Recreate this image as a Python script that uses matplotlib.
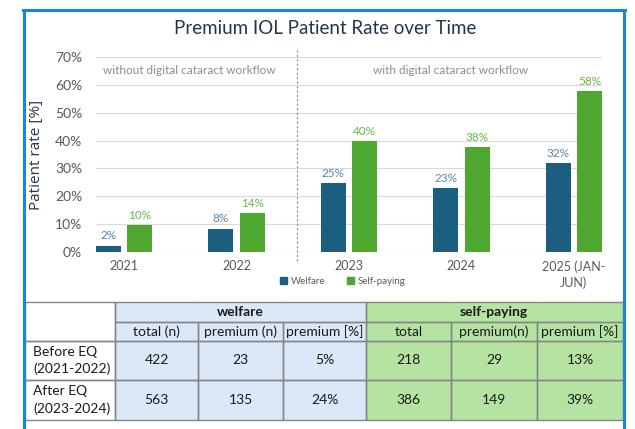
import matplotlib
matplotlib.use("Agg")
import matplotlib.pyplot as plt
from matplotlib.patches import Patch
from matplotlib.lines import Line2D
import numpy as np

# ---------------- data ----------------
years = ["2021", "2022", "2023", "2024", "2025 (JAN-\nJUN)"]
welfare = [2.3, 8.4, 24.8, 23.0, 31.8]
self_paying = [9.6, 14.1, 39.7, 37.6, 57.8]
yticks = [0, 10, 20, 30, 40, 50, 60, 70]

periods = ["Before EQ\n(2021-2022)", "After EQ\n(2023-2024)"]
welfare_total = [422, 563]
welfare_premium = [23, 135]
welfare_pct = ["5%", "24%"]
sp_total = [218, 386]
sp_premium = [29, 149]
sp_pct = ["13%", "39%"]
sub_headers = ["total (n)", "premium (n)", "premium [%]", "total", "premium(n)", "premium [%]"]

# ---------------- style ----------------
FONT = ["Lato", "DejaVu Sans"]
plt.rcParams["font.family"] = FONT
C_W = "#1a5e80"
C_S = "#4ea72e"
C_WL = "#5586ad"
C_SL = "#62bb44"
GRAY = "#595959"
BORDER = "#1687d9"

W, H = 635, 429
fig = plt.figure(figsize=(W / 100, H / 100), dpi=100)
fig.patch.set_facecolor("white")

# ---------------- chart ----------------
ax = fig.add_axes([96 / W, 1 - 252 / H, (602 - 96) / W, (252 - 57) / H])
x = np.arange(len(years))
bw = 0.22
off = 0.14
b1 = ax.bar(x - off, welfare, bw, color=C_W, zorder=3, label="Welfare")
b2 = ax.bar(x + off, self_paying, bw, color=C_S, zorder=3, label="Self-paying")
ax.bar_label(b1, labels=[f"{v:.0f}%" for v in welfare], padding=3, fontsize=8.5, color=C_WL)
ax.bar_label(b2, labels=[f"{v:.0f}%" for v in self_paying], padding=3, fontsize=8.5, color=C_SL)

ax.set_xlim(-0.25, len(years) - 0.75)
ax.set_ylim(0, 70)
ax.set_yticks(yticks)
ax.set_yticklabels([f"{t}%" for t in yticks])
ax.set_xticks(x)
ax.set_xticklabels(years, linespacing=1.3)
ax.tick_params(axis="y", length=0, pad=10, labelsize=10, labelcolor=GRAY)
ax.tick_params(axis="x", length=0, pad=6, labelsize=9, labelcolor=GRAY)
ax.grid(axis="y", color="#d9d9d9", linewidth=0.8, zorder=0)
ax.set_axisbelow(True)
for s in ax.spines.values():
    s.set_visible(False)
ax.set_ylabel("Patient rate [%]", fontsize=11, color="#26374a", labelpad=8,
              family=["Open Sans", "DejaVu Sans"])

ax.axvline(1.54, ymin=-0.046, ymax=1.046, color="#8c8c8c", linestyle=(0, (2, 2)),
           linewidth=0.8, clip_on=False, zorder=1)
ax.text(0.58, 65, "without digital cataract workflow", ha="center", va="center",
        fontsize=8.5, color="#8c8c8c")
ax.text(2.9, 65, "with digital cataract workflow", ha="center", va="center",
        fontsize=8.5, color="#8c8c8c")

handles = [Patch(color=C_W, label="Welfare"), Patch(color=C_S, label="Self-paying")]
fig.legend(handles=handles, loc="center", bbox_to_anchor=(343 / W, 1 - 281 / H), ncol=2,
           frameon=False, fontsize=7, labelcolor=GRAY, handlelength=0.7, handleheight=0.7,
           handletextpad=0.4, columnspacing=2.2)

fig.text(325 / W, 1 - 29 / H, "Premium IOL Patient Rate over Time", ha="center", va="center",
         fontsize=13.5, color="#203550")

# ---------------- table ----------------
col_w = [90, 83, 85, 83, 85, 86, 86]
row_h = [20, 19, 39, 40]
cells = [["", "", "welfare", "", "", "self-paying", ""],
         [""] + sub_headers]
for i in range(2):
    cells.append([periods[i], str(welfare_total[i]), str(welfare_premium[i]), welfare_pct[i],
                  str(sp_total[i]), str(sp_premium[i]), sp_pct[i]])
BLUE = "#dae8f7"
GREEN = "#b5e4a2"
fills = []
for r in range(4):
    fills.append(["white"] + [BLUE] * 3 + [GREEN] * 3)

tax = fig.add_axes([25 / W, 1 - 420 / H, (623 - 25) / W, (420 - 302) / H])
tax.axis("off")

tw = [w / sum(col_w) for w in col_w]
# background table (fill only)
bg = tax.table(cellText=[[""] * 7 for _ in range(4)], cellColours=fills, colWidths=tw,
               bbox=[0, 0, 1, 1])
for (r, c), cell in bg.get_celld().items():
    cell.set_height(row_h[r])
    cell.set_edgecolor(fills[r][c])
    cell.set_linewidth(0)
# foreground table (edges + text)
fg = tax.table(cellText=cells, colWidths=tw, cellLoc="center", bbox=[0, 0, 1, 1])
fg.auto_set_font_size(False)
fg.set_fontsize(10)
for (r, c), cell in fg.get_celld().items():
    cell.set_height(row_h[r])
    cell.set_facecolor("none")
    cell.set_edgecolor("#858585")
    cell.set_linewidth(1.0)
    cell.get_text().set_color("#1a1a1a")
    if r == 0:
        cell.get_text().set_fontweight("bold")
    if c == 0 and r >= 2:
        cell.PAD = 0.09
        cell.get_text().set_horizontalalignment("left")
        cell.get_text().set_linespacing(1.5)
fg[0, 0].visible_edges = "TLR"
fg[1, 0].visible_edges = "BLR"
fg[0, 1].visible_edges = "TLB"
fg[0, 2].visible_edges = "TB"
fg[0, 3].visible_edges = "TRB"
fg[0, 4].visible_edges = "TLB"
fg[0, 5].visible_edges = "TB"
fg[0, 6].visible_edges = "TRB"

# ---------------- frame ----------------
lw = 2.2
fig.add_artist(Line2D([23 / W, 625 / W], [1 - 10 / H, 1 - 10 / H], color=BORDER, linewidth=lw))
fig.add_artist(Line2D([24 / W, 24 / W], [1 - 10 / H, 0], color=BORDER, linewidth=lw))
fig.add_artist(Line2D([624 / W, 624 / W], [1 - 10 / H, 0], color=BORDER, linewidth=lw))

fig.savefig("out.png", dpi=100, facecolor="white")
